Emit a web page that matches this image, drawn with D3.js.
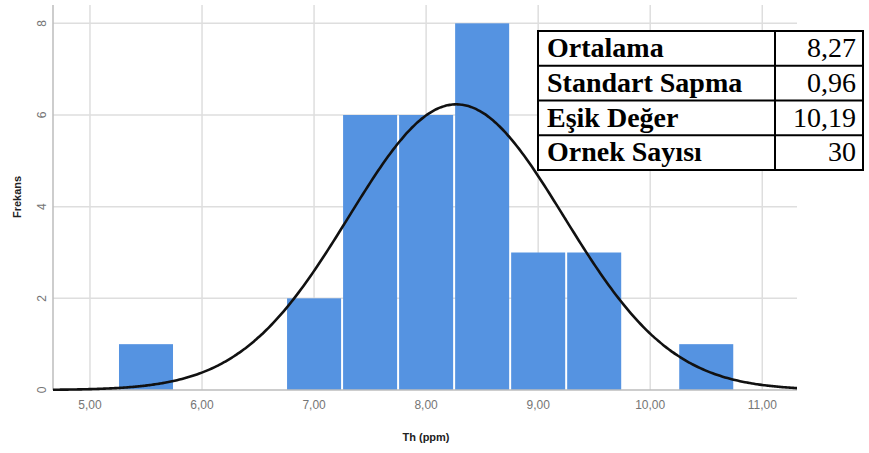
<!DOCTYPE html>
<html>
<head>
<meta charset="utf-8">
<script src="https://cdn.jsdelivr.net/npm/d3@7"></script>
<style>
  body { margin: 0; background: #fff; }
</style>
</head>
<body>
<div id="chart"></div>
<script>
// histogram bins (Th ppm, width 0.5) and counts
var binStart = [5.25, 6.75, 7.25, 7.75, 8.25, 8.75, 9.25, 10.25];
var binEnd   = [5.75, 7.25, 7.75, 8.25, 8.75, 9.25, 9.75, 10.75];
var counts   = [1, 2, 6, 6, 8, 3, 3, 1];

var xTicks = [5, 6, 7, 8, 9, 10, 11];
var yTicks = [0, 2, 4, 6, 8];

var statLabels = ["Ortalama", "Standart Sapma", "Eşik Değer", "Ornek Sayısı"];
var statValues = ["8,27", "0,96", "10,19", "30"];

var mean = 8.27, sd = 0.96, n = 30, binWidth = 0.5;

var W = 869, H = 453;
var margin = {top: 5, right: 72, bottom: 63, left: 53};
var width = W - margin.left - margin.right,
    height = H - margin.top - margin.bottom;

var svg = d3.select("#chart")
  .append("svg")
  .attr("width", W)
  .attr("height", H);

var g = svg.append("g")
  .attr("transform", "translate(" + margin.left + "," + margin.top + ")");

var x = d3.scaleLinear().domain([4.67, 11.31]).range([0, width]);
var y = d3.scaleLinear().domain([0, 8.4]).range([height, 0]);

// grid
g.append("g").selectAll("line.v")
  .data(xTicks).enter().append("line")
  .attr("x1", d => x(d)).attr("x2", d => x(d))
  .attr("y1", 0).attr("y2", height)
  .attr("stroke", "#dedede").attr("stroke-width", 1.5);
g.append("g").selectAll("line.h")
  .data(yTicks.slice(1)).enter().append("line")
  .attr("x1", 0).attr("x2", width)
  .attr("y1", d => y(d)).attr("y2", d => y(d))
  .attr("stroke", "#dedede").attr("stroke-width", 1.5);

// bars
g.append("g").selectAll("rect")
  .data(counts).enter().append("rect")
  .attr("x", (d, i) => x(binStart[i]) + 1)
  .attr("width", (d, i) => x(binEnd[i]) - x(binStart[i]) - 2)
  .attr("y", d => y(d))
  .attr("height", d => height - y(d))
  .attr("fill", "#5593e1");

// axes lines
g.append("line").attr("x1", 0).attr("x2", 0).attr("y1", 0).attr("y2", height)
  .attr("stroke", "#bdbdbd").attr("stroke-width", 1.5);
g.append("line").attr("x1", 0).attr("x2", width).attr("y1", height).attr("y2", height)
  .attr("stroke", "#bdbdbd").attr("stroke-width", 1.5);

// normal curve
var curve = d3.range(0, 301).map(function(i) {
  var v = 4.67 + i * (11.31 - 4.67) / 300;
  var f = n * binWidth / (sd * Math.sqrt(2 * Math.PI)) * Math.exp(-0.5 * Math.pow((v - mean) / sd, 2));
  return [v, f];
});
g.append("path")
  .datum(curve)
  .attr("fill", "none")
  .attr("stroke", "#111")
  .attr("stroke-width", 2.6)
  .attr("d", d3.line().x(d => x(d[0])).y(d => y(d[1])).curve(d3.curveBasis));

// tick labels
g.append("g").selectAll("text")
  .data(xTicks).enter().append("text")
  .attr("x", d => x(d)).attr("y", height + 19)
  .attr("text-anchor", "middle")
  .attr("font-family", "Arial, 'Liberation Sans', sans-serif")
  .attr("font-size", 12).attr("fill", "#757575")
  .text(d => d3.format(".2f")(d).replace(".", ","));

g.append("g").selectAll("text")
  .data(yTicks).enter().append("text")
  .attr("transform", d => "translate(-7," + y(d) + ") rotate(-90)")
  .attr("text-anchor", "middle")
  .attr("font-family", "Arial, 'Liberation Sans', sans-serif")
  .attr("font-size", 12).attr("fill", "#757575")
  .text(d => d);

// axis titles
svg.append("text")
  .attr("x", 426).attr("y", 441)
  .attr("text-anchor", "middle")
  .attr("font-family", "Arial, 'Liberation Sans', sans-serif")
  .attr("font-size", 11).attr("font-weight", "bold").attr("fill", "#222")
  .text("Th (ppm)");
svg.append("text")
  .attr("transform", "translate(21,197) rotate(-90)")
  .attr("text-anchor", "middle")
  .attr("font-family", "Arial, 'Liberation Sans', sans-serif")
  .attr("font-size", 11).attr("font-weight", "bold").attr("fill", "#222")
  .text("Frekans");

// stats table
var tx = 538, ty = 31, col = 775, tr = 863, rowH = 34.75;
var table = svg.append("g");
table.append("rect")
  .attr("x", tx).attr("y", ty)
  .attr("width", tr - tx).attr("height", rowH * 4)
  .attr("fill", "#fff").attr("stroke", "#000").attr("stroke-width", 2);
table.append("line")
  .attr("x1", col).attr("x2", col).attr("y1", ty).attr("y2", ty + rowH * 4)
  .attr("stroke", "#000").attr("stroke-width", 2);
table.selectAll("line.row")
  .data(d3.range(1, statLabels.length)).enter().append("line")
  .attr("x1", tx).attr("x2", tr)
  .attr("y1", d => ty + d * rowH).attr("y2", d => ty + d * rowH)
  .attr("stroke", "#000").attr("stroke-width", 2);
table.selectAll("text.lab")
  .data(statLabels).enter().append("text")
  .attr("x", tx + 9).attr("y", (d, i) => ty + i * rowH + 26)
  .attr("font-family", "'Times New Roman', 'Liberation Serif', serif")
  .attr("font-size", 28).attr("font-weight", "bold").attr("fill", "#000")
  .text(d => d);
table.selectAll("text.val")
  .data(statValues).enter().append("text")
  .attr("x", tr - 7).attr("y", (d, i) => ty + i * rowH + 26)
  .attr("text-anchor", "end")
  .attr("font-family", "'Times New Roman', 'Liberation Serif', serif")
  .attr("font-size", 28).attr("fill", "#000")
  .text(d => d);
</script>
</body>
</html>
